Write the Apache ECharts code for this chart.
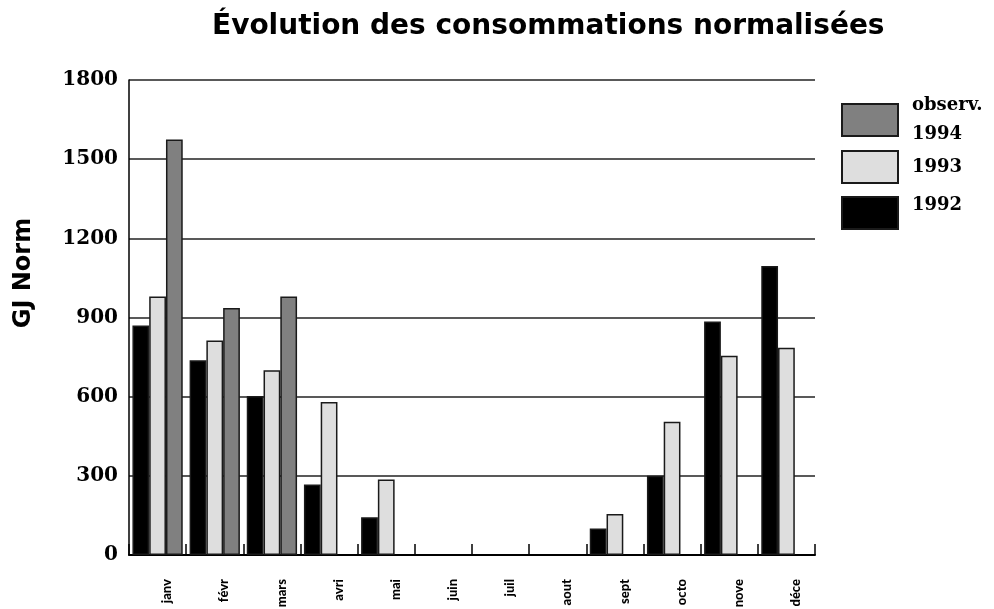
<!DOCTYPE html>
<html>
<head>
<meta charset="utf-8">
<script src="https://cdn.jsdelivr.net/npm/echarts@6/dist/echarts.min.js"></script>
<style>
  html, body { margin: 0; padding: 0; background: #fff; }
  #chart { width: 994px; height: 609px; }
</style>
</head>
<body>
<div id="chart"></div>
<script>
// mois (étiquettes de l'axe X)
const months = ['janv', 'févr', 'mars', 'avri', 'mai', 'juin', 'juil', 'aout', 'sept', 'octo', 'nove', 'déce']

// valeurs (GJ normalisés), '-' = pas de barre
const cons1992 = [870, 738, 603, 267, 143, '-', '-', '-', 100, 300, 885, 1095]
const cons1993 = [980, 813, 700, 580, 286, '-', '-', '-', 155, 505, 755, 785]
const cons1994 = [1575, 936, 980, '-', '-', '-', '-', '-', '-', '-', '-', '-']

const yTicks = { min: 0, max: 1800, interval: 300 }

const serifFont = 'DejaVu Serif'
const sansFont = 'DejaVu Sans'

const barBorder = { borderColor: '#1a1a1a', borderWidth: 1.5 }

const chart = echarts.init(document.getElementById('chart'))

const legendBase = {
  orient: 'vertical',
  left: 841,
  padding: 0,
  itemWidth: 56,
  itemHeight: 32,
  icon: 'rect',
  selectedMode: false,
  textStyle: {
    fontFamily: serifFont,
    fontWeight: 'bold',
    fontSize: 18,
    color: '#000',
    padding: [0, 0, 0, 9],
  },
}

chart.setOption({
  animation: false,
  backgroundColor: '#fff',
  title: {
    text: 'Évolution des consommations normalisées',
    left: 207,
    top: 8,
    textStyle: {
      fontFamily: sansFont,
      fontWeight: 'bold',
      fontSize: 28,
      color: '#000',
    },
  },
  legend: [
    {
      ...legendBase,
      top: 91,
      data: ['1994'],
      formatter: () => 'observ.\n1994',
      textStyle: { ...legendBase.textStyle, lineHeight: 29 },
    },
    {
      ...legendBase,
      top: 150,
      data: ['1993'],
    },
    {
      ...legendBase,
      top: 196,
      data: ['1992'],
      // le libellé 1992 est placé dans le haut de la case
      formatter: (name) => name + '\n\u00a0',
      textStyle: { ...legendBase.textStyle, lineHeight: 16 },
    },
  ],
  grid: {
    left: 129,
    right: 179,
    top: 80,
    bottom: 54,
    containLabel: false,
    outerBoundsMode: 'none',
  },
  xAxis: {
    type: 'category',
    data: months,
    axisLine: { lineStyle: { color: '#000', width: 2 } },
    axisTick: {
      show: true,
      inside: true,
      length: 11,
      lineStyle: { color: '#000', width: 1.5 },
    },
    axisLabel: {
      rotate: 90,
      margin: 24,
      fontFamily: 'Lato, "Liberation Sans", sans-serif',
      fontWeight: 900,
      fontSize: 13,
      color: '#000',
      verticalAlign: 'top',
      padding: [3, 0, 0, 0],
    },
    splitLine: { show: false },
  },
  yAxis: {
    type: 'value',
    min: yTicks.min,
    max: yTicks.max,
    interval: yTicks.interval,
    name: 'GJ Norm',
    nameLocation: 'middle',
    nameRotate: 90,
    nameGap: 93,
    nameTextStyle: {
      fontFamily: sansFont,
      fontWeight: 'bold',
      fontSize: 24,
      color: '#000',
      padding: [0, 0, 0, 89],
    },
    axisLine: { show: true, lineStyle: { color: '#000', width: 1.5 } },
    axisTick: { show: false },
    axisLabel: {
      margin: 11,
      fontFamily: serifFont,
      fontWeight: 'bold',
      fontSize: 20,
      color: '#000',
      formatter: (v) => String(v),
    },
    splitLine: { show: true, lineStyle: { color: '#222', width: 1.5 } },
  },
  series: [
    {
      name: '1992',
      type: 'bar',
      data: cons1992,
      barGap: '0%',
      barCategoryGap: '12%',
      itemStyle: { color: '#000', ...barBorder },
    },
    {
      name: '1993',
      type: 'bar',
      data: cons1993,
      itemStyle: { color: '#dedede', ...barBorder },
    },
    {
      name: '1994',
      type: 'bar',
      data: cons1994,
      itemStyle: { color: '#808080', ...barBorder },
    },
  ],
})
</script>
</body>
</html>
